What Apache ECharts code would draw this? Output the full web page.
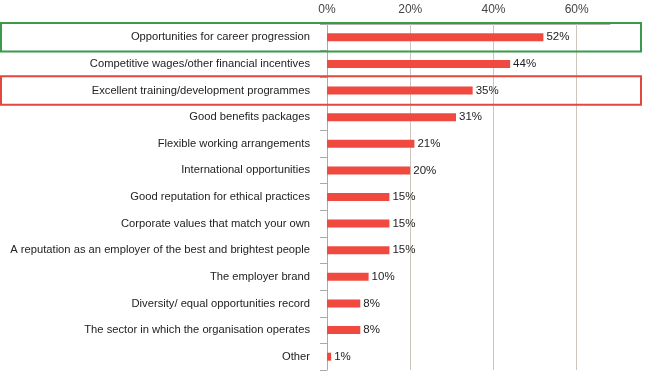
<!DOCTYPE html>
<html>
<head>
<meta charset="utf-8">
<script src="https://cdn.jsdelivr.net/npm/echarts@6/dist/echarts.min.js"></script>
<style>
html,body{margin:0;padding:0;background:#fff;}
#c{width:651px;height:379px;}
</style>
</head>
<body>
<div id="c"></div>
<script>
var categories = [
  "Opportunities for career progression",
  "Competitive wages/other financial incentives",
  "Excellent training/development programmes",
  "Good benefits packages",
  "Flexible working arrangements",
  "International opportunities",
  "Good reputation for ethical practices",
  "Corporate values that match your own",
  "A reputation as an employer of the best and brightest people",
  "The employer brand",
  "Diversity/ equal opportunities record",
  "The sector in which the organisation operates",
  "Other"
];
var values = [52, 44, 35, 31, 21, 20, 15, 15, 15, 10, 8, 8, 1];
var tickValues = [20, 40, 60];
var highlighted = [
  {index: 0, color: "#3b9a4b"},
  {index: 2, color: "#e2483d"}
];

var chart = echarts.init(document.getElementById('c'), null, {renderer: 'canvas'});
var option = {
  animation: false,
  grid: {left: 327, top: 24, width: 283, height: 346, containLabel: false},
  xAxis: {
    type: 'value', position: 'top', min: 0, max: 68, interval: 20,
    axisLine: {show: true, lineStyle: {color: '#b8b2ac', width: 1}},
    axisTick: {show: false},
    splitLine: {show: false},
    axisLabel: {
      color: '#444', fontSize: 12, fontFamily: 'Liberation Sans, Arial, sans-serif', margin: 8,
      formatter: function (v) { return v % 20 === 0 ? v + '%' : ''; }
    }
  },
  yAxis: {
    type: 'category', inverse: true, data: categories,
    axisLine: {show: true, lineStyle: {color: '#aaa'}},
    axisTick: {show: true, length: 7, lineStyle: {color: '#aaa'}},
    axisLabel: {color: '#222', fontSize: 11.2, fontFamily: 'Liberation Sans, Arial, sans-serif', margin: 17}
  },
  series: [{
    type: 'bar', data: values, barWidth: 8,
    itemStyle: {color: '#f04a40'},
    label: {
      show: true, position: 'right', distance: 3, color: '#222', fontSize: 11.5,
      fontFamily: 'Liberation Sans, Arial, sans-serif',
      formatter: function (p) { return p.value + '%'; }
    },
    markLine: {
      silent: true, symbol: 'none', label: {show: false},
      lineStyle: {color: '#cdc6bf', type: 'solid', width: 1},
      data: tickValues.map(function (v) { return {xAxis: v}; }),
      z: 1
    }
  }]
};
chart.setOption(option);

var y0 = chart.convertToPixel({yAxisIndex: 0}, categories[0]);
var y1 = chart.convertToPixel({yAxisIndex: 0}, categories[1]);
var band = Math.abs(y1 - y0);
var graphics = highlighted.map(function (h) {
  var cy = chart.convertToPixel({yAxisIndex: 0}, categories[h.index]);
  return {
    type: 'rect', z: 100,
    shape: {x: 1, y: cy - band / 2 - 1, width: 640, height: band + 2},
    style: {fill: 'none', stroke: h.color, lineWidth: 2}
  };
});
chart.setOption({graphic: graphics});
</script>
</body>
</html>
